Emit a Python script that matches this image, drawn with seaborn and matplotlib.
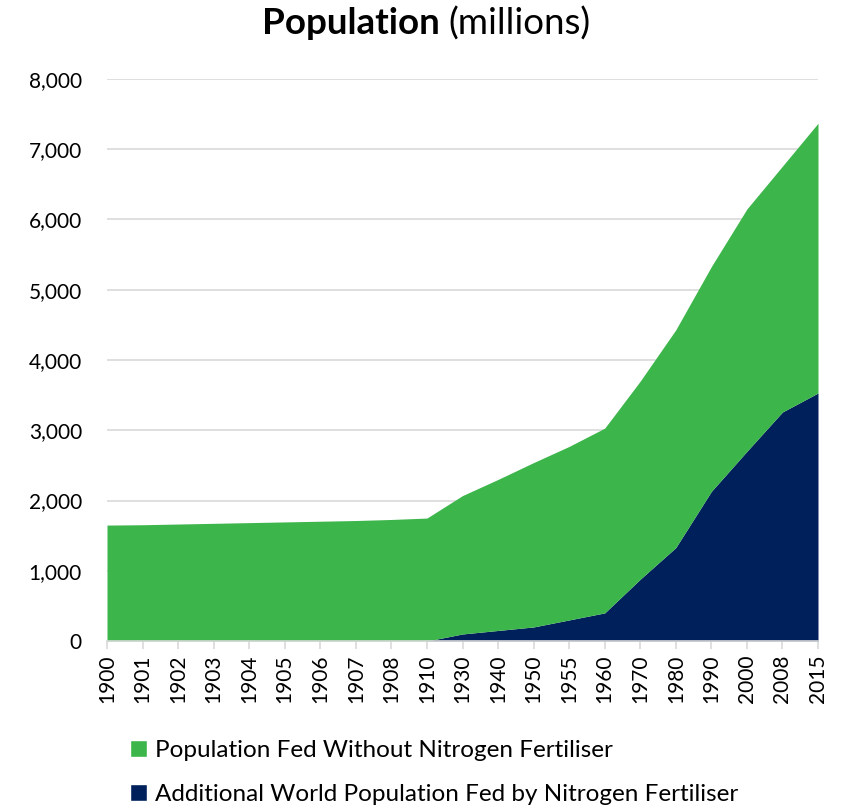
import matplotlib
matplotlib.use("Agg")
import matplotlib.pyplot as plt
from matplotlib.patches import Patch
import seaborn as sns
import numpy as np

years = ["1900", "1901", "1902", "1903", "1904", "1905", "1906", "1907", "1908", "1910",
         "1930", "1940", "1950", "1955", "1960", "1970", "1980", "1990", "2000", "2008", "2015"]
total_population = [1650, 1655, 1665, 1675, 1685, 1695, 1705, 1715, 1730, 1750,
                    2070, 2300, 2540, 2770, 3030, 3700, 4430, 5330, 6150, 6760, 7370]
fed_by_fertiliser = [0, 0, 0, 0, 0, 0, 0, 0, 0, 0,
                     100, 150, 200, 300, 400, 880, 1330, 2130, 2700, 3260, 3530]
fed_without = [t - f for t, f in zip(total_population, fed_by_fertiliser)]

label_without = "Population Fed Without Nitrogen Fertiliser"
label_with = "Additional World Population Fed by Nitrogen Fertiliser"
green = "#3cb54a"
navy = "#00205b"

sns.set_theme(style="whitegrid")
plt.rcParams["font.family"] = ["Lato", "DejaVu Sans"]
plt.rcParams["text.color"] = "black"
plt.rcParams["xtick.color"] = "black"
plt.rcParams["ytick.color"] = "black"

W, H = 846, 809
fig = plt.figure(figsize=(W / 100, H / 100), dpi=100)
ax = fig.add_axes([107 / W, 1 - 641 / H, (818 - 107) / W, (641 - 79) / H])

x = np.arange(len(years))
ax.stackplot(x, fed_by_fertiliser, fed_without, colors=[navy, green], linewidth=0)

ax.set_xlim(0, len(years) - 1)
ax.set_ylim(0, 8000)
ax.set_yticks(np.arange(0, 8001, 1000))
ax.set_yticklabels([f"{v:,}" for v in range(0, 8001, 1000)], fontsize=15)
ax.set_xticks(x)
ax.set_xticklabels(years, rotation=90, fontsize=15)
ax.grid(axis="x", visible=False)
ax.grid(axis="y", color="#d9d9d9", linewidth=1.2)
ax.set_axisbelow(True)
for s in ["left", "top", "right"]:
    ax.spines[s].set_visible(False)
ax.spines["bottom"].set_color("#d9d9d9")
ax.spines["bottom"].set_linewidth(1.2)
ax.tick_params(axis="x", which="major", bottom=True, length=6, width=1.2, pad=4,
               color="#d9d9d9", labelcolor="black")
ax.tick_params(axis="y", left=False, pad=12, labelcolor="black")

fig.text(440 / W, 1 - 24 / H, "Population", fontsize=26.5, fontweight="bold", ha="right", va="center")
fig.text(448 / W, 1 - 24 / H, "(millions)", fontsize=26.5, ha="left", va="center")

handles = [Patch(facecolor=green, label=label_without), Patch(facecolor=navy, label=label_with)]
fig.legend(handles=handles, loc="upper left", bbox_to_anchor=(120 / W, 1 - 730 / H),
           frameon=False, fontsize=17.5, handlelength=0.7, handleheight=0.7,
           handletextpad=0.35, labelspacing=0.95, borderaxespad=0)

fig.savefig("out.png", dpi=100)
